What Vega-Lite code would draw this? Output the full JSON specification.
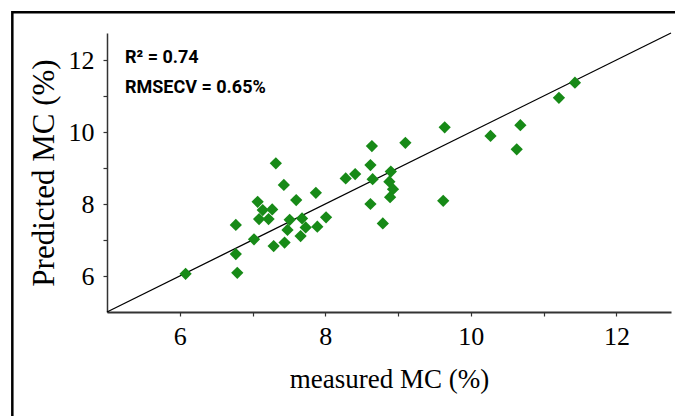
{
  "$schema": "https://vega.github.io/schema/vega-lite/v6.json",
  "width": 564,
  "height": 279,
  "autosize": {"type": "none"},
  "padding": {"left": 107, "top": 33, "right": 4, "bottom": 104},
  "background": "white",
  "config": {
    "view": {"stroke": null},
    "axis": {"grid": false, "labelFont": "Liberation Serif", "titleFont": "Liberation Serif"}
  },
  "datasets": {
    "points": [
      {"measured": 6.08, "predicted": 6.06},
      {"measured": 6.77, "predicted": 7.42},
      {"measured": 6.77, "predicted": 6.61},
      {"measured": 6.79, "predicted": 6.09},
      {"measured": 7.02, "predicted": 7.02},
      {"measured": 7.07, "predicted": 8.06},
      {"measured": 7.09, "predicted": 7.58},
      {"measured": 7.14, "predicted": 7.83},
      {"measured": 7.22, "predicted": 7.58},
      {"measured": 7.27, "predicted": 7.85},
      {"measured": 7.29, "predicted": 6.83},
      {"measured": 7.32, "predicted": 9.13},
      {"measured": 7.43, "predicted": 8.53},
      {"measured": 7.44, "predicted": 6.93},
      {"measured": 7.48, "predicted": 7.28},
      {"measured": 7.51, "predicted": 7.56},
      {"measured": 7.60, "predicted": 8.11},
      {"measured": 7.66, "predicted": 7.11},
      {"measured": 7.68, "predicted": 7.60},
      {"measured": 7.73, "predicted": 7.35},
      {"measured": 7.87, "predicted": 8.31},
      {"measured": 7.89, "predicted": 7.37},
      {"measured": 8.01, "predicted": 7.63},
      {"measured": 8.28, "predicted": 8.71},
      {"measured": 8.41, "predicted": 8.83},
      {"measured": 8.62, "predicted": 9.08},
      {"measured": 8.64, "predicted": 9.61},
      {"measured": 8.65, "predicted": 8.69},
      {"measured": 8.62, "predicted": 8.00},
      {"measured": 8.79, "predicted": 7.46},
      {"measured": 8.90, "predicted": 8.90},
      {"measured": 8.88, "predicted": 8.62},
      {"measured": 8.93, "predicted": 8.41},
      {"measured": 8.89, "predicted": 8.19},
      {"measured": 9.10, "predicted": 9.70},
      {"measured": 9.62, "predicted": 8.09},
      {"measured": 9.64, "predicted": 10.13},
      {"measured": 10.27, "predicted": 9.89},
      {"measured": 10.63, "predicted": 9.52},
      {"measured": 10.68, "predicted": 10.19},
      {"measured": 11.21, "predicted": 10.95},
      {"measured": 11.43, "predicted": 11.37}
    ],
    "fit": [
      {"measured": 5, "predicted": 5},
      {"measured": 12.75, "predicted": 12.75}
    ]
  },
  "layer": [
    {
      "data": {"values": [{}]},
      "mark": {"type": "rect", "filled": false, "stroke": "black", "strokeWidth": 2.5, "clip": false},
      "encoding": {
        "x": {"datum": 3.699, "type": "quantitative"},
        "x2": {"datum": 13.3},
        "y": {"datum": 13.325, "type": "quantitative"},
        "y2": {"datum": 1.0}
      }
    },
    {
      "data": {"name": "fit"},
      "mark": {"type": "line", "color": "black", "strokeWidth": 1.3},
      "encoding": {
        "x": {"field": "measured", "type": "quantitative"},
        "y": {"field": "predicted", "type": "quantitative"}
      }
    },
    {
      "data": {"name": "points"},
      "mark": {"type": "point", "shape": "diamond", "filled": true, "color": "#178a17", "opacity": 1, "size": 150},
      "encoding": {
        "x": {
          "field": "measured", "type": "quantitative",
          "scale": {"domain": [5, 12.75], "nice": false, "zero": false},
          "axis": {
            "title": "measured MC (%)",
            "values": [6, 7, 8, 9, 10, 11, 12],
            "labelExpr": "datum.value % 2 == 0 ? format(datum.value, 'd') : ''",
            "domainColor": "#333333", "domainWidth": 1.8,
            "tickColor": "#333333", "tickWidth": 1.2, "tickSize": 4,
            "labelFont": "Liberation Serif", "labelFontSize": 26, "labelColor": "black", "labelPadding": 7,
            "titleFontSize": 27, "titleFontWeight": "normal", "titleColor": "black", "titlePadding": 17
          }
        },
        "y": {
          "field": "predicted", "type": "quantitative",
          "scale": {"domain": [5, 12.75], "nice": false, "zero": false},
          "axis": {
            "title": "Predicted MC (%)",
            "values": [6, 7, 8, 9, 10, 11, 12],
            "labelExpr": "datum.value % 2 == 0 ? format(datum.value, 'd') : ''",
            "domainColor": "#333333", "domainWidth": 1.5,
            "tickColor": "#333333", "tickWidth": 1.2, "tickSize": 4,
            "labelFont": "Liberation Serif", "labelFontSize": 26, "labelColor": "black", "labelPadding": 9,
            "titleFontSize": 31, "titleFontWeight": "normal", "titleColor": "black", "titlePadding": 8
          }
        }
      }
    },
    {
      "data": {"values": [{}]},
      "mark": {"type": "text", "text": "R² = 0.74", "font": "Roboto", "fontWeight": "bold", "fontSize": 18, "align": "left", "baseline": "middle", "color": "black"},
      "encoding": {
        "x": {"datum": 5.247, "type": "quantitative"},
        "y": {"datum": 12.06, "type": "quantitative"}
      }
    },
    {
      "data": {"values": [{}]},
      "mark": {"type": "text", "text": "RMSECV = 0.65%", "font": "Roboto", "fontWeight": "bold", "fontSize": 18, "align": "left", "baseline": "middle", "color": "black"},
      "encoding": {
        "x": {"datum": 5.247, "type": "quantitative"},
        "y": {"datum": 11.22, "type": "quantitative"}
      }
    }
  ]
}
